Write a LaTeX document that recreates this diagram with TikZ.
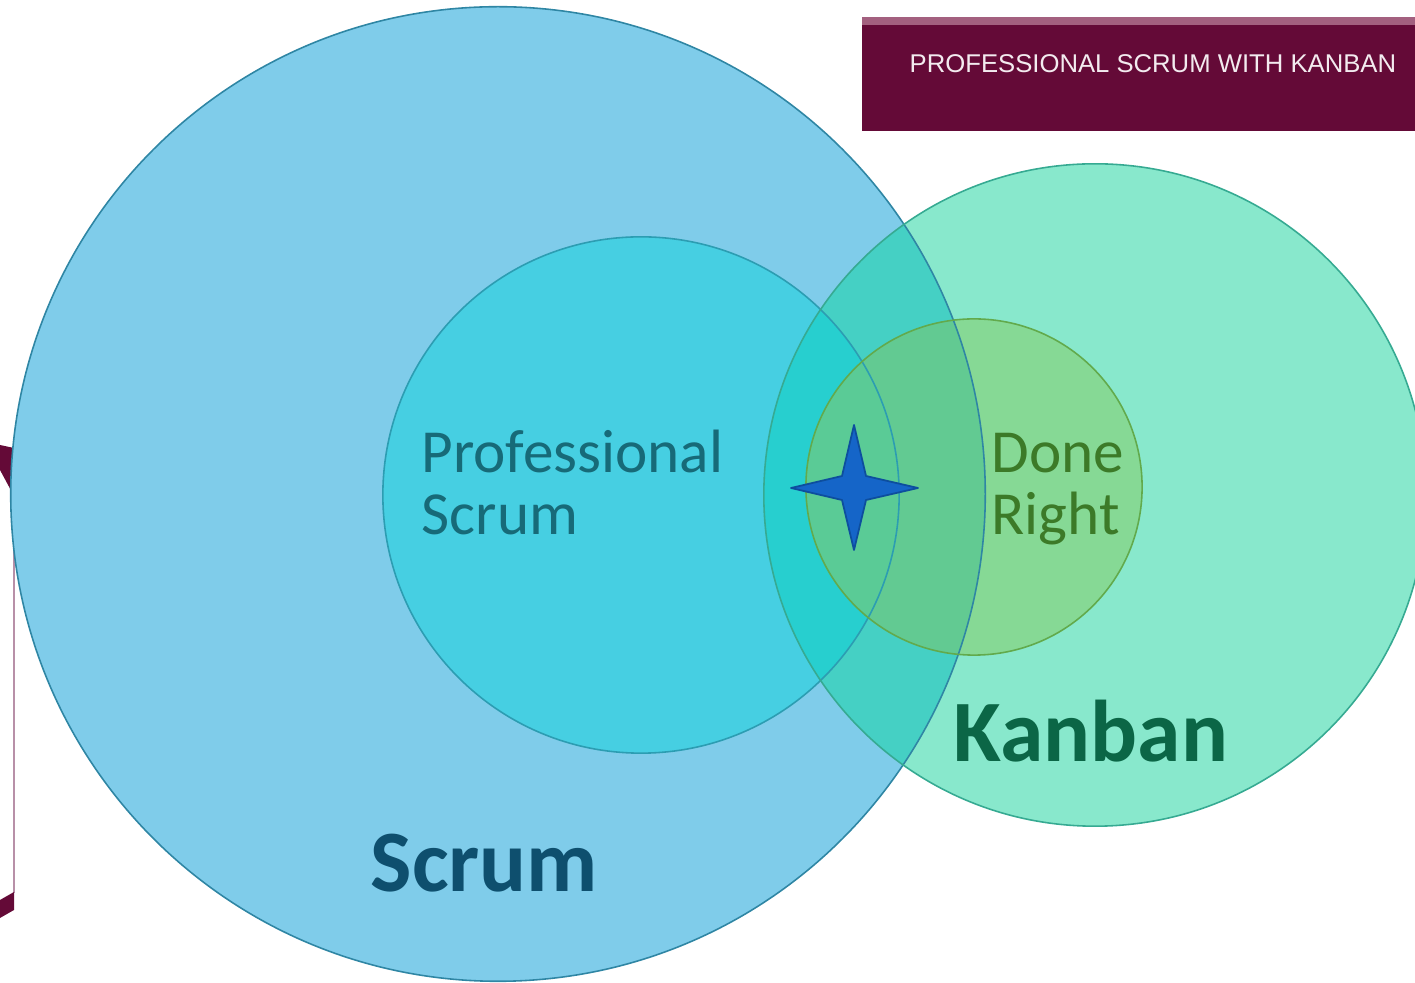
\documentclass[tikz,border=0pt]{standalone}
\usepackage{fontspec}
\setmainfont{Carlito}
\newfontfamily\bannerfont{Liberation Sans}
\definecolor{scrumfill}{HTML}{7FCCEA}
\definecolor{proffill}{HTML}{46CFE2}
\definecolor{kanfill}{HTML}{88E8CC}
\definecolor{ksfill}{HTML}{45D0C4}
\definecolor{kpfill}{HTML}{27CFCF}
\definecolor{donefill}{HTML}{86D995}
\definecolor{dsfill}{HTML}{62CA92}
\definecolor{dpfill}{HTML}{5ACB96}
\definecolor{scrumline}{HTML}{2F86A4}
\definecolor{profline}{HTML}{2C9DB2}
\definecolor{kanline}{HTML}{36AA92}
\definecolor{doneline}{HTML}{62AA4C}
\definecolor{plum}{HTML}{640A37}
\definecolor{plumlight}{HTML}{A3607F}
\definecolor{plumline}{HTML}{B890A8}
\definecolor{starfill}{HTML}{1565C8}
\definecolor{starline}{HTML}{0D4E9E}
\definecolor{proftext}{HTML}{176A78}
\definecolor{scrumtext}{HTML}{0E4F6E}
\definecolor{kantext}{HTML}{0B6646}
\definecolor{donetext}{HTML}{3C7A28}
\tikzset{
  ring/.style={draw=#1, line width=0.45pt},
  label/.style={inner sep=0pt, anchor=base west, align=left},
  biglabel/.style={label, font=\fontsize{24.9pt}{29pt}\selectfont\bfseries},
  midlabel/.style={label, font=\fontsize{17.4pt}{17.7pt}\selectfont},
}
\begin{document}
\begin{tikzpicture}[x=0.01cm, y=-0.01cm]
\useasboundingbox (0,0) rectangle (1415,983);
\coordinate (S) at (498,494);
\coordinate (P) at (641,495);
\coordinate (K) at (1095,495);
\coordinate (D) at (974,487);
% left decoration
\fill[plum] (0,445) -- (14,448) -- (14,496) -- (0,470) -- cycle;
\draw[plumline, line width=0.5pt] (14,496) -- (14,893);
\fill[plum] (0,900) -- (14,892) -- (14,910) -- (0,918) -- cycle;
% fills
\fill[scrumfill] (S) circle[radius=4.87cm];
\fill[proffill] (P) circle[radius=2.58cm];
\fill[kanfill] (K) circle[radius=3.31cm];
\begin{scope}
  \clip (K) circle[radius=3.31cm];
  \fill[ksfill] (S) circle[radius=4.87cm];
  \fill[kpfill] (P) circle[radius=2.58cm];
\end{scope}
\fill[donefill] (D) circle[radius=1.68cm];
\begin{scope}
  \clip (D) circle[radius=1.68cm];
  \fill[dsfill] (S) circle[radius=4.87cm];
  \fill[dpfill] (P) circle[radius=2.58cm];
\end{scope}
% outlines
\draw[ring=scrumline] (S) circle[radius=4.87cm];
\draw[ring=profline] (P) circle[radius=2.58cm];
\draw[ring=kanline] (K) circle[radius=3.31cm];
\draw[ring=doneline] (D) circle[radius=1.68cm];
% star
\fill[starfill, draw=starline, line width=0.5pt, line join=round]
  (854,425) -- (866,476) -- (918,488) -- (866,500) -- (854,550)
  -- (842,500) -- (791,488) -- (842,476) -- cycle;
% banner
\fill[plum] (862,17) rectangle (1415,131);
\fill[plumlight] (862,17) rectangle (1415,25);
\node[label, text=white!92!plum, font=\bannerfont\fontsize{7.3pt}{8pt}\selectfont]
  (title) at (909,73) {PROFESSIONAL SCRUM WITH KANBAN};
% labels
\node[midlabel, text=proftext] (prof) at (421,535) {Professional\\Scrum};
\node[midlabel, text=donetext] (done) at (991,535) {Done\\Right};
\node[biglabel, text=scrumtext] (scrum) at (370,892) {Scrum};
\node[biglabel, text=kantext] (kanban) at (953,762) {Kanban};
\end{tikzpicture}
\end{document}
